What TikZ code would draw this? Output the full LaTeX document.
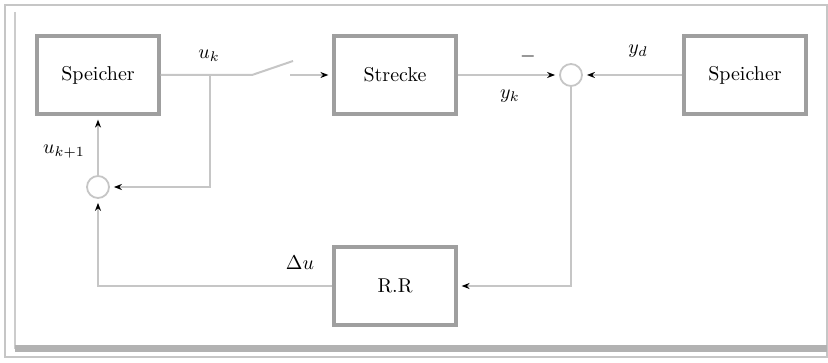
\documentclass[tikz,border=0pt]{standalone}
\usetikzlibrary{arrows.meta}
\begin{document}
\begin{tikzpicture}[x=0.5pt,y=-0.5pt,
  blk/.style={draw=gray!75,line width=1.6pt,minimum width=61pt,minimum height=39pt,inner sep=0pt,font=\normalsize},
  sumc/.style={circle,draw=gray!45,line width=0.9pt,minimum size=11pt,inner sep=0pt},
  wire/.style={draw=gray!45,line width=1pt},
  arr/.style={wire,-{Stealth[length=4pt,width=3pt,black]},shorten >=2pt},
  lbl/.style={font=\normalsize,inner sep=0pt}]
\useasboundingbox (0,0) rectangle (828,363);
% frame
\draw[gray!45,line width=0.6pt] (5,5) rectangle (827,357);
\draw[gray!40,line width=1.4pt] (15,12) -- (15,349);
\fill[gray!60] (15,345) rectangle (827,352);
% blocks
\node[blk] (s1) at (98,75) {Speicher};
\node[blk] (st) at (395,75) {Strecke};
\node[blk] (s2) at (745,75) {Speicher};
\node[blk] (rr) at (395,286) {R.R};
\node[sumc] (c1) at (98,187) {};
\node[sumc] (c2) at (571,75) {};
% switch
\coordinate (b) at (210,75);
\coordinate (sw1) at (252,75);
\coordinate (sw2) at (293,61);
\coordinate (sw3) at (290,75);
\draw[wire] (s1.east) -- (sw1) -- (sw2);
\draw[arr] (sw3) -- (st.west);
% feedback branch
\draw[arr] (b) |- (c1.east);
\draw[arr] (c1.north) -- (s1.south);
\draw[arr] (rr.west) -| (c1.south);
\draw[arr] (st.east) -- (c2.west);
\draw[arr] (s2.west) -- (c2.east);
\draw[arr] (c2.south) |- (rr.east);
% labels
\node[lbl] (luk) at (209,56) {$u_k$};
\node[lbl] (luk1) at (64,152) {$u_{k+1}$};
\node[lbl] (lminus) at (528,57) {$-$};
\node[lbl] (lyk) at (510,96) {$y_k$};
\node[lbl] (lyd) at (638,51) {$y_d$};
\node[lbl] (ldu) at (300,263) {$\Delta u$};
\end{tikzpicture}
\end{document}
